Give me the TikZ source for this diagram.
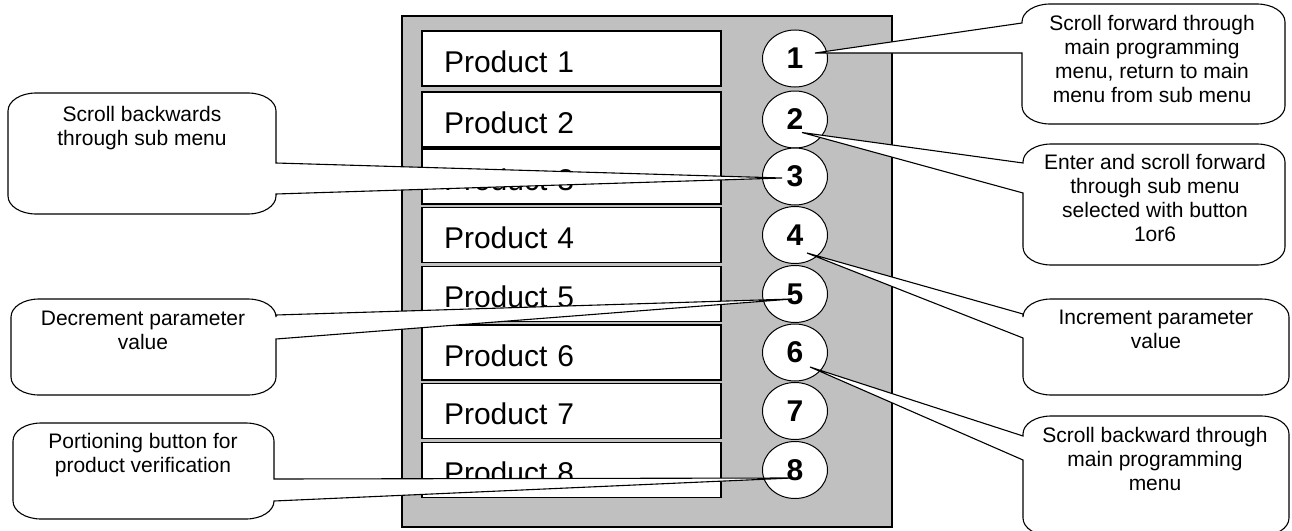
\documentclass[tikz,border=0pt]{standalone}
\usepackage{fontspec}
\setmainfont{Liberation Sans}
\usetikzlibrary{shapes.geometric,calc}
\pgfdeclarelayer{fg}
\pgfsetlayers{main,fg}
\definecolor{panelgray}{HTML}{C0C0C0}
% callout with pointer on its east side: L T R B p1 p2 tip
\newcommand\calloutE[7]{%
\path[callout] ({#1+28},#2) -- ({#3-28},#2)
 .. controls ({#3-12.5},#2) and (#3,{#2+8}) .. (#3,{#2+18})
 -- (#3,#5) -- #7 -- (#3,#6) -- (#3,{#4-18})
 .. controls (#3,{#4-8}) and ({#3-12.5},#4) .. ({#3-28},#4)
 -- ({#1+28},#4)
 .. controls ({#1+12.5},#4) and (#1,{#4-8}) .. (#1,{#4-18})
 -- (#1,{#2+18})
 .. controls (#1,{#2+8}) and ({#1+12.5},#2) .. ({#1+28},#2) -- cycle;}
% callout with pointer on its west side: L T R B p1 p2 tip
\newcommand\calloutW[7]{%
\path[callout] ({#1+28},#2) -- ({#3-28},#2)
 .. controls ({#3-12.5},#2) and (#3,{#2+8}) .. (#3,{#2+18})
 -- (#3,{#4-18})
 .. controls (#3,{#4-8}) and ({#3-12.5},#4) .. ({#3-28},#4)
 -- ({#1+28},#4)
 .. controls ({#1+12.5},#4) and (#1,{#4-8}) .. (#1,{#4-18})
 -- (#1,#6) -- #7 -- (#1,#5) -- (#1,{#2+18})
 .. controls (#1,{#2+8}) and ({#1+12.5},#2) .. ({#1+28},#2) -- cycle;}
\begin{document}
\begin{tikzpicture}[x=1pt,y=-1pt,
  panel/.style={draw, line width=1.5pt, fill=panelgray, minimum width=490pt, minimum height=511pt, inner sep=0pt},
  prod/.style={draw, line width=1.1pt, fill=white, minimum width=299pt, minimum height=55pt,
    inner xsep=22pt, inner ysep=0pt, text width=255pt, align=left, text height=27pt, text depth=0pt,
    font=\fontsize{30}{36}\selectfont},
  btn/.style={ellipse, draw, line width=1pt, fill=white, minimum width=65pt, minimum height=57pt, inner sep=0pt},
  num/.style={font=\bfseries\fontsize{30}{36}\selectfont, inner sep=0pt},
  callout/.style={draw, line width=1.1pt, fill=white, line join=miter},
  ctext/.style={align=center, font=\fontsize{21}{24}\selectfont, inner sep=0pt, anchor=north}]
\useasboundingbox (0,0) rectangle (1292,530);
\clip (0,0) rectangle (1292,530);
\node[panel] (panel) at (647,271.5) {};
% product boxes
\node[prod] (p1) at (571.5,58.5) {Product 1};
\node[prod] (p2) at (571.5,119.5) {Product 2};
\node[prod] (p3) at (571.5,176.5) {Product 3};
\node[prod] (p4) at (571.5,235) {Product 4};
\node[prod] (p5) at (571.5,294) {Product 5};
\node[prod] (p6) at (571.5,352.5) {Product 6};
\node[prod] (p7) at (571.5,411) {Product 7};
\node[prod] (p8) at (571.5,470) {Product 8};
% buttons
\foreach \i/\y in {1/58.5,2/119.5,3/176.5,4/235,5/294,6/352.5,7/411,8/470}{
  \node[btn] (e\i) at (795,\y) {};
  \begin{pgfonlayer}{fg}
    \node[num] (n\i) at (e\i.center) {\i};
  \end{pgfonlayer}
}
% callouts, pointer on east side
\calloutE{8}{93}{276}{214}{163}{194}{($(n3)+(-13,1.5)$)}
\calloutE{11}{299}{276}{395}{315}{339}{($(n5)+(-3,5)$)}
\calloutE{13}{423}{274}{519}{479}{501}{($(n8)+(-3,8)$)}
% callouts, pointer on west side
\calloutW{1022}{4}{1285}{124}{23}{53}{($(n1)+(20,-5.5)$)}
\calloutW{1023}{144}{1285}{265}{163}{193}{($(n2)+(7,13)$)}
\calloutW{1023}{299}{1289}{395}{314}{338}{($(n4)+(12,18)$)}
\calloutW{1023}{416}{1289}{536}{436}{460}{($(n6)+(15,14.5)$)}
% callout texts
\node[ctext] (tA) at (142,106.5) {Scroll backwards\\through sub menu};
\node[ctext] (tB) at (143,311) {Decrement parameter\\value};
\node[ctext] (tC) at (143,433) {Portioning button for\\product verification};
\node[ctext] (tD) at (1152,15.5) {Scroll forward through\\main programming\\menu, return to main\\menu from sub menu};
\node[ctext] (tE) at (1155,154.5) {Enter and scroll forward\\through sub menu\\selected with button\\1or6};
\node[ctext] (tF) at (1156,309.5) {Increment parameter\\value};
\node[ctext] (tG) at (1155,427) {Scroll backward through\\main programming\\menu};
\end{tikzpicture}
\end{document}
